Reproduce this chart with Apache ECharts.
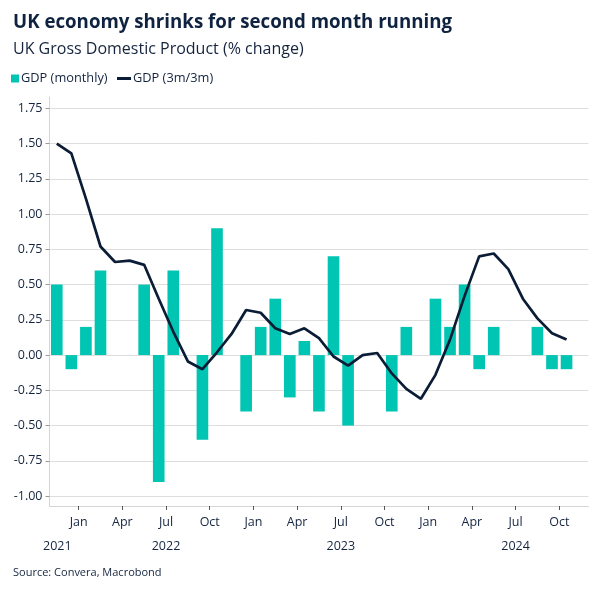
<!DOCTYPE html>
<html>
<head>
<meta charset="utf-8">
<script src="https://cdn.jsdelivr.net/npm/echarts@6/dist/echarts.min.js"></script>
<style>
  html, body { margin: 0; padding: 0; background: #ffffff; }
  #chart { width: 604px; height: 604px; }
</style>
</head>
<body>
<div id="chart"></div>
<script>
// ---- Data ----
var months = [
  'Nov 2021','Dec 2021',
  'Jan 2022','Feb 2022','Mar 2022','Apr 2022','May 2022','Jun 2022','Jul 2022','Aug 2022','Sep 2022','Oct 2022','Nov 2022','Dec 2022',
  'Jan 2023','Feb 2023','Mar 2023','Apr 2023','May 2023','Jun 2023','Jul 2023','Aug 2023','Sep 2023','Oct 2023','Nov 2023','Dec 2023',
  'Jan 2024','Feb 2024','Mar 2024','Apr 2024','May 2024','Jun 2024','Jul 2024','Aug 2024','Sep 2024','Oct 2024','Nov 2024'
];
var gdpMonthly = [0.5, -0.1, 0.2, 0.6, 0.0, 0.0, 0.5, -0.9, 0.6, 0.0, -0.6, 0.9, 0.0, -0.4,
  0.2, 0.4, -0.3, 0.1, -0.4, 0.7, -0.5, 0.0, 0.0, -0.4, 0.2, 0.0,
  0.4, 0.2, 0.5, -0.1, 0.2, 0.0, 0.0, 0.2, -0.1, -0.1];
var gdp3m3m = [1.50, 1.43, 1.11, 0.77, 0.66, 0.67, 0.64, 0.40, 0.165, -0.045, -0.10, 0.02, 0.15, 0.32,
  0.30, 0.19, 0.15, 0.19, 0.12, -0.01, -0.075, 0.0, 0.015, -0.13, -0.24, -0.31,
  -0.14, 0.11, 0.42, 0.70, 0.72, 0.61, 0.40, 0.26, 0.155, 0.11];
var monthTickPos = [2, 5, 8, 11, 14, 17, 20, 23, 26, 29, 32, 35];
var monthTickLabels = ['Jan','Apr','Jul','Oct','Jan','Apr','Jul','Oct','Jan','Apr','Jul','Oct'];
var yearLabelPos = [0.54, 8, 20, 32];
var yearLabels = ['2021', '2022', '2023', '2024'];
var yTicks = [-1.00, -0.75, -0.50, -0.25, 0.00, 0.25, 0.50, 0.75, 1.00, 1.25, 1.50, 1.75];

// ---- Style ----
var FONT = 'Open Sans';
var TEXT = '#14243f';
var TEAL = '#00c5b2';
var NAVY = '#0b1d36';
var GRIDC = '#dedede';

var chart = echarts.init(document.getElementById('chart'), null, { renderer: 'canvas' });
var nCat = months.length;

var option = {
  backgroundColor: '#ffffff',
  animation: false,
  textStyle: { fontFamily: FONT, color: TEXT },
  title: [
    { text: 'UK economy shrinks for second month running', left: 8, top: 8,
      textStyle: { fontFamily: FONT, fontWeight: 'bold', fontSize: 18.7, color: '#0f2340' } },
    { text: 'UK Gross Domestic Product (% change)', left: 8, top: 36,
      textStyle: { fontFamily: FONT, fontWeight: 'normal', fontSize: 16, color: TEXT } },
    { text: 'Source: Convera, Macrobond', left: 8, top: 562,
      textStyle: { fontFamily: FONT, fontWeight: 'normal', fontSize: 11, color: TEXT } }
  ],
  legend: [
    { left: 6, top: 67, itemWidth: 8, itemHeight: 8, itemGap: 6,
      data: [{ name: 'GDP (monthly)', icon: 'rect' }],
      textStyle: { fontFamily: FONT, fontSize: 12.8, color: TEXT, padding: [0, 0, 0, -3] } },
    { left: 112, top: 67, itemWidth: 14, itemHeight: 3, itemGap: 6,
      data: [{ name: 'GDP (3m/3m)', icon: 'rect' }],
      textStyle: { fontFamily: FONT, fontSize: 12.8, color: TEXT, padding: [0, 0, 0, -3] } }
  ],
  grid: { left: 49.5, right: 15.6, top: 97, bottom: 98, containLabel: false, outerBoundsMode: 'none' },
  xAxis: [
    { type: 'category', data: months, boundaryGap: true, show: false },
    { type: 'value', min: 0, max: nCat, position: 'bottom',
      axisLine: { show: true, lineStyle: { color: '#d4d4d4', width: 1 } },
      axisTick: { show: true, length: 4, customValues: monthTickPos, lineStyle: { color: '#555555' } },
      axisLabel: { show: true, customValues: monthTickPos, margin: 10, fontSize: 12.5, color: TEXT, fontFamily: FONT,
        formatter: function (v) { var i = monthTickPos.indexOf(v); return i >= 0 ? monthTickLabels[i] : ''; } },
      splitLine: { show: false } },
    { type: 'value', min: 0, max: nCat, position: 'bottom', offset: 24,
      axisLine: { show: false }, axisTick: { show: false }, splitLine: { show: false },
      axisLabel: { show: true, customValues: yearLabelPos, margin: 10, fontSize: 12.5, color: TEXT, fontFamily: FONT,
        formatter: function (v) { var i = yearLabelPos.indexOf(v); return i >= 0 ? yearLabels[i] : ''; } } }
  ],
  yAxis: {
    type: 'value', min: -1.07, max: 1.83,
    axisLine: { show: true, lineStyle: { color: '#d4d4d4', width: 1 } },
    axisTick: { show: true, length: 4, customValues: yTicks, lineStyle: { color: '#9a9a9a' } },
    axisLabel: { customValues: yTicks, margin: 7, fontSize: 12.5, color: TEXT, fontFamily: FONT,
      formatter: function (v) { return v.toFixed(2); } },
    splitLine: { show: true, lineStyle: { color: GRIDC, width: 1 } }
  },
  series: [
    { name: 'GDP (monthly)', type: 'bar', xAxisIndex: 0, data: gdpMonthly,
      barCategoryGap: '20%', itemStyle: { color: TEAL } },
    { name: 'GDP (3m/3m)', type: 'line', xAxisIndex: 0, data: gdp3m3m,
      showSymbol: false, symbol: 'none', smooth: false,
      lineStyle: { color: NAVY, width: 2.7 }, itemStyle: { color: NAVY } }
  ]
};
chart.setOption(option);
</script>
</body>
</html>
